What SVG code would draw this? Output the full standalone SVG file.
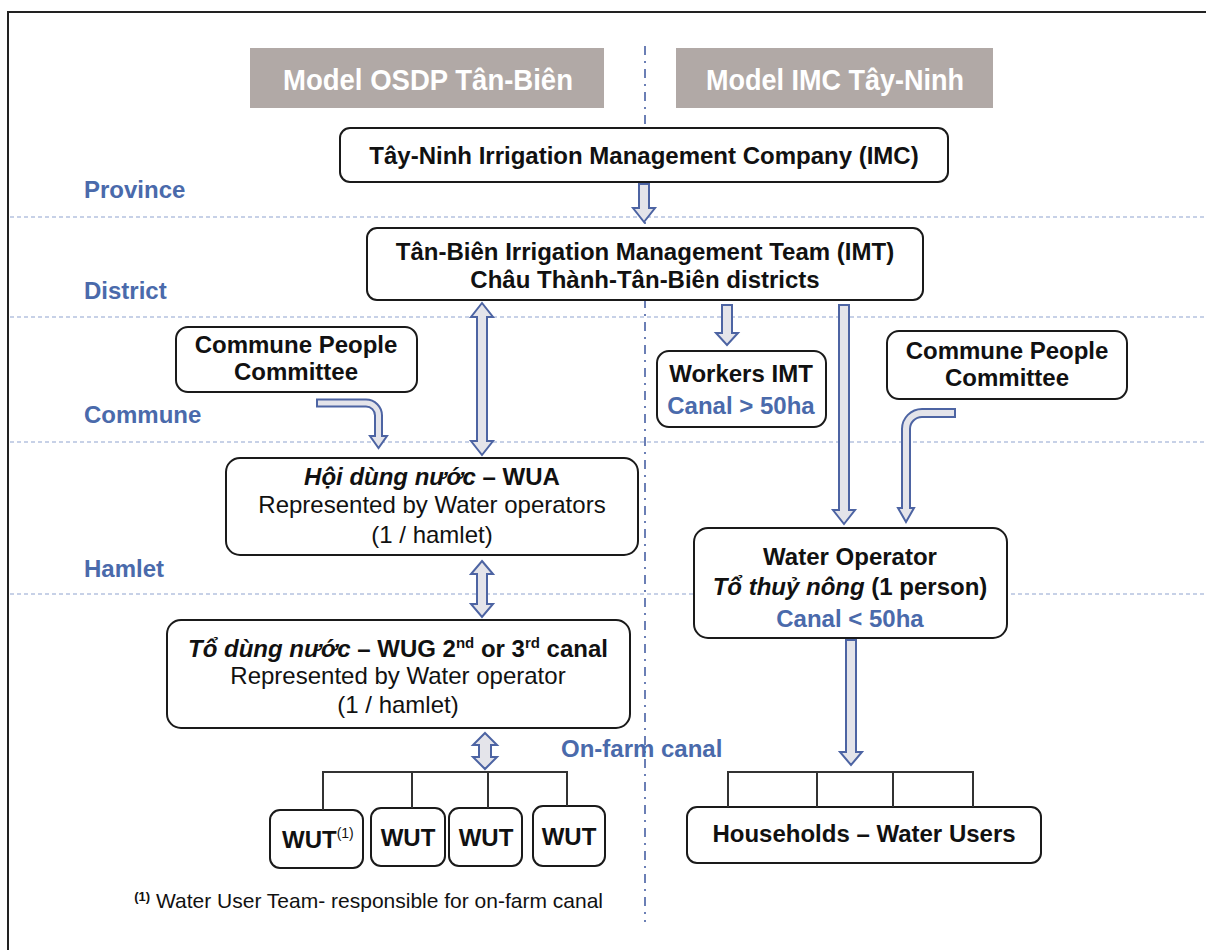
<svg xmlns="http://www.w3.org/2000/svg" width="1206" height="950" viewBox="0 0 1206 950">
<style>
.box{fill:#fff;stroke:#1a1a1a;stroke-width:2}
.hdr{fill:#b1a9a6}
.ht{font-family:"Liberation Sans",Arial,sans-serif;font-weight:bold;font-size:30px;fill:#fff;text-anchor:middle}
.t{font-family:"Liberation Sans",Arial,sans-serif;font-size:24px;fill:#111;text-anchor:middle}
.b{font-weight:bold}
.i{font-style:italic}
.blue{fill:#4a6aab}
.lvl{font-family:"Liberation Sans",Arial,sans-serif;font-weight:bold;font-size:24px;fill:#4a6aab}
.arr{fill:#e4e4ea;stroke:#4d64a3;stroke-width:2;stroke-linejoin:miter}
.hl{stroke:#8fa3cf;stroke-width:1.2;stroke-dasharray:4 3;fill:none}
.bus{stroke:#333;stroke-width:2;fill:none}
</style>
<rect width="1206" height="950" fill="#fff"/>
<path d="M8,950 V12 H1206" fill="none" stroke="#222" stroke-width="2"/>
<g id="levels">
<line class="hl" x1="10" y1="217" x2="1206" y2="217"/>
<line class="hl" x1="10" y1="317" x2="1206" y2="317"/>
<line class="hl" x1="10" y1="442" x2="1206" y2="442"/>
<line class="hl" x1="10" y1="594" x2="1206" y2="594"/>
<line x1="645" y1="46" x2="645" y2="922" stroke="#6b7fb5" stroke-width="2" stroke-dasharray="9 6 2 6"/>
<text class="lvl" x="84" y="198">Province</text>
<text class="lvl" x="84" y="299">District</text>
<text class="lvl" x="84" y="423">Commune</text>
<text class="lvl" x="84" y="577">Hamlet</text>
<text class="lvl" x="561" y="757">On-farm canal</text>
</g>
<g id="hdr-left"><rect class="hdr" x="250" y="48" width="354" height="60"/><text class="ht" x="428" y="90" textLength="290" lengthAdjust="spacingAndGlyphs">Model OSDP Tân-Biên</text></g>
<g id="hdr-right"><rect class="hdr" x="676" y="48" width="317" height="60"/><text class="ht" x="835" y="90" textLength="258" lengthAdjust="spacingAndGlyphs">Model IMC Tây-Ninh</text></g>
<g id="imc"><rect class="box" x="340" y="128" width="608" height="54" rx="10"/><text class="t b" x="644" y="164">Tây-Ninh Irrigation Management Company (IMC)</text></g>
<g id="imt"><rect class="box" x="367" y="228" width="556" height="72" rx="10"/><text class="t b" x="645" y="260">Tân-Biên Irrigation Management Team (IMT)</text><text class="t b" x="645" y="288">Châu Thành-Tân-Biên districts</text></g>
<g id="cpc-left"><rect class="box" x="176" y="327" width="241" height="65" rx="12"/><text class="t b" x="296" y="353">Commune People</text><text class="t b" x="296" y="380">Committee</text></g>
<g id="wua"><rect class="box" x="226" y="458" width="412" height="97" rx="14"/><text class="t" x="432" y="485"><tspan class="b i">Hội dùng nước</tspan><tspan class="b"> – WUA</tspan></text><text class="t" x="432" y="513">Represented by Water operators</text><text class="t" x="432" y="543">(1 / hamlet)</text></g>
<g id="wug"><rect class="box" x="167" y="620" width="463" height="108" rx="14"/><text class="t" x="398" y="657"><tspan class="b i">Tổ dùng nước</tspan><tspan class="b"> – WUG 2</tspan><tspan class="b" font-size="15" dy="-9">nd</tspan><tspan class="b" dy="9"> or 3</tspan><tspan class="b" font-size="15" dy="-9">rd</tspan><tspan class="b" dy="9"> canal</tspan></text><text class="t" x="398" y="684">Represented by Water operator</text><text class="t" x="398" y="713">(1 / hamlet)</text></g>
<g id="wut1"><rect class="box" x="270" y="810" width="93" height="58" rx="10"/><text class="t b" x="282" y="848" style="text-anchor:start">WUT<tspan font-size="14" font-weight="normal" dy="-10">(1)</tspan></text></g>
<g id="wut2"><rect class="box" x="371" y="808" width="74" height="58" rx="10"/><text class="t b" x="408" y="846">WUT</text></g>
<g id="wut3"><rect class="box" x="449" y="808" width="73" height="58" rx="10"/><text class="t b" x="486" y="846">WUT</text></g>
<g id="wut4"><rect class="box" x="533" y="806" width="72" height="60" rx="10"/><text class="t b" x="569" y="845">WUT</text></g>
<g id="workers"><rect class="box" x="657" y="351" width="169" height="76" rx="12"/><text class="t b" x="741" y="382">Workers IMT</text><text class="t b blue" x="741" y="414">Canal &gt; 50ha</text></g>
<g id="cpc-right"><rect class="box" x="887" y="331" width="240" height="68" rx="12"/><text class="t b" x="1007" y="359">Commune People</text><text class="t b" x="1007" y="386">Committee</text></g>
<g id="wo"><rect class="box" x="694" y="528" width="313" height="110" rx="14"/><text class="t b" x="850" y="565">Water Operator</text><text class="t b" x="850" y="595"><tspan class="i">Tổ thuỷ nông</tspan> (1 person)</text><text class="t b blue" x="850" y="627">Canal &lt; 50ha</text></g>
<g id="households"><rect class="box" x="687" y="807" width="354" height="56" rx="10"/><text class="t b" x="864" y="842">Households – Water Users</text></g>
<g id="footnote"><text font-family="Liberation Sans,Arial,sans-serif" font-size="21" fill="#111" x="603" y="908" text-anchor="end"><tspan font-size="13" font-weight="bold" dy="-7">(1)</tspan><tspan dy="7"> Water User Team- responsible for on-farm canal</tspan></text></g>
<g id="connectors">
<path class="arr" d="M639,184 H649 V208 H655 L644,222 L633,208 H639 Z"/>
<path class="arr" d="M482,303 L493,317 H487 V441 H493 L482,455 L471,441 H477 V317 H471 Z"/>
<path class="arr" d="M317,399.5 H366 A16,16 0 0 1 382,415.5 V436 H387 L378.5,448 L370,436 H375 V415.5 A9,9 0 0 0 366,406.5 H317 Z"/>
<path class="arr" d="M482,561 L493,574 H487 V604 H493 L482,617 L471,604 H477 V574 H471 Z"/>
<path class="arr" d="M485,733 L497,745 H491 V757 H497 L485,769 L473,757 H479 V745 H473 Z"/>
<path class="arr" d="M722,305 H732 V333 H738 L727,345 L716,333 H722 Z"/>
<path class="arr" d="M839,305 H849 V510 H855 L844,524 L833,510 H839 Z"/>
<path class="arr" d="M955,409 H922 A20,20 0 0 0 902,429 V508 H898 L906,522 L914,508 H910 V429 A12,12 0 0 1 922,417 H955 Z"/>
<path class="arr" d="M846,640 H856 V752 H862 L851,765 L840,752 H846 Z"/>
<path class="bus" d="M323,810 V772 H567 V806 M412,772 V808 M488,772 V808"/>
<path class="bus" d="M728,807 V772 H973 V807 M817,772 V807 M893,772 V807"/>
</g>
</svg>
